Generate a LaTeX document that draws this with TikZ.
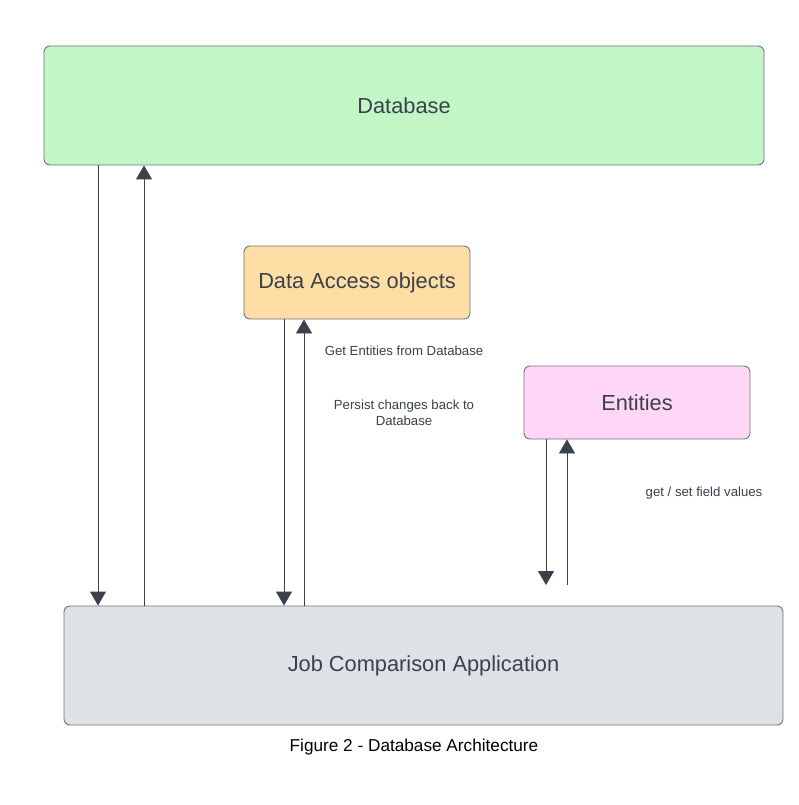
\documentclass[tikz,border=0pt]{standalone}
\usepackage{fontspec}
\setmainfont{Liberation Sans}
\usepackage{tikz}
\usetikzlibrary{arrows.meta,shapes}
\definecolor{ink}{HTML}{3A414A}
\definecolor{boxline}{HTML}{6E737A}
\definecolor{dbfill}{HTML}{C3F6C6}
\definecolor{daofill}{HTML}{FFDEA6}
\definecolor{entfill}{HTML}{FFD6F5}
\definecolor{appfill}{HTML}{DEE1E6}
\tikzstyle{block}=[draw=boxline,line width=0.9pt,rounded corners=6pt,text=ink,inner sep=0pt,font=\fontsize{21.8}{26}\selectfont]
\tikzstyle{note}=[text=ink,align=center,font=\fontsize{13.2}{16}\selectfont]
\tikzstyle{edge} = [draw=ink,line width=0.9pt,-{Triangle[width=16pt,length=14pt]}]

\begin{document}
\begin{tikzpicture}[x=1pt,y=-1pt]
    \useasboundingbox[fill=white] (0,0) rectangle (799,805);
    % First we draw the boxes
    \foreach \pos/\name/\w/\h/\col/\txt in {{(404,105.5)/db/720/119/dbfill/Database}, {(357,282.5)/dao/226/73/daofill/Data Access objects}, {(637,402.5)/ent/226/73/entfill/Entities}, {(423.5,665.5)/app/719/119/appfill/Job Comparison Application}}
        \node[block,fill=\col,minimum width=\w pt,minimum height=\h pt] (\name) at \pos {\txt};

    \coordinate (entfoot) at (556,585);

    % Connect boxes with arrows
    \foreach \source/\dest/\x in {db/app/98, dao/app/284}
        \path[edge] (\source.south -| \x,0) -- (\dest.north -| \x,0);
    \foreach \source/\dest/\x in {app/db/144, app/dao/304}
        \path[edge] (\source.north -| \x,0) -- (\dest.south -| \x,0);
    \path[edge] (ent.south -| 546,0) -- (entfoot -| 546,0);
    \path[edge] (entfoot -| 567,0) -- (ent.south -| 567,0);

    % Labels
    \node[note] (getlbl) at (404,351) {Get Entities from Database};
    \node[note] (persistlbl) at (404,413) {Persist changes back to\\Database};
    \node[note] (fieldlbl) at (704,493) {get / set field values};
    \node[font=\fontsize{17.2}{20}\selectfont] (caption) at (414,747) {Figure 2 - Database Architecture};
\end{tikzpicture}
\end{document}
